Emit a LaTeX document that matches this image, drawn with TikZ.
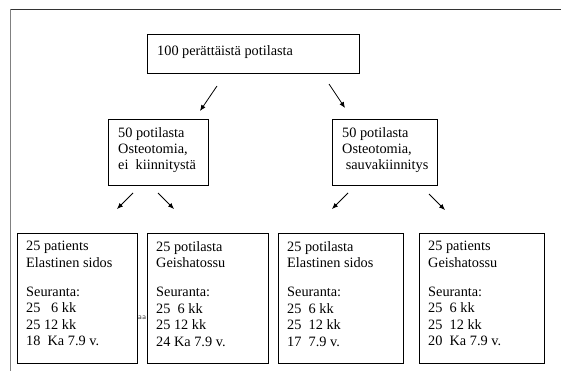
\documentclass[tikz,border=0pt]{standalone}
\usepackage{fontspec}
\setmainfont{Liberation Serif}
\usepackage{tikz}
\usetikzlibrary{arrows.meta,positioning}
\tikzset{
  box/.style={draw,line width=0.8pt,anchor=north west,inner sep=0pt},
  boxtext/.style={anchor=north west,align=left,inner sep=0pt,font=\fontsize{14.3}{16.4}\selectfont},
  arr/.style={line width=0.8pt,-{Latex[length=6pt,width=5pt]}}
}

\begin{document}
\begin{tikzpicture}[x=1pt,y=-1pt]
  \useasboundingbox (0,0) rectangle (561,371);
  % frame
  \draw[black!80,line width=1.2pt] (10,9.5) -- (561,9.5);
  \draw[gray,line width=1.6pt] (10.5,9) -- (10.5,371);

  % first level
  \node[box,minimum width=212pt,minimum height=39pt] (start) at (147,34) {};
  \node[boxtext] (starttxt) at (157,45) {100 perättäistä potilasta};

  % second level
  \node[box,minimum width=100pt,minimum height=66pt] (nofix) at (108,119) {};
  \node[boxtext] (nofixtxt) at (118,127) {50 potilasta\\Osteotomia,\\ei\ \ kiinnitystä};
  \node[box,minimum width=105pt,minimum height=66pt] (rodfix) at (332,119) {};
  \node[boxtext] (rodfixtxt) at (342,127) {50 potilasta\\Osteotomia,\\\ sauvakiinnitys};

  % third level
  \foreach \x/\w/\nm/\txt in {
    17/120/elasA/{25 patients\\Elastinen sidos\\[13pt]Seuranta:\\25\ \ \ 6 kk\\25\ 12 kk\\18\ \ Ka 7.9 v.},
    147/121/geishaA/{25 potilasta\\Geishatossu\\[13pt]Seuranta:\\25\ \ 6 kk\\25 12 kk\\24\ Ka 7.9 v.},
    278/125/elasB/{25 potilasta\\Elastinen sidos\\[13pt]Seuranta:\\25\ \ 6 kk\\25\ \ 12 kk\\17\ \ 7.9 v.},
    419/125/geishaB/{25 patients\\Geishatossu\\[13pt]Seuranta:\\25\ \ 6 kk\\25\ \ 12 kk\\20\ \ Ka 7.9 v.}}{
    \node[box,minimum width=\w pt,minimum height=130pt] (\nm) at (\x,233) {};
    \node[boxtext] (\nm txt) at (\x+9,241) {\txt};
  }
  \node[font=\sffamily\fontsize{8}{9}\selectfont,black!75] (stray) at (142,318) {aa};

  % arrows
  \coordinate (a1s) at (217,86);  \coordinate (a1e) at (200,111);
  \coordinate (a2s) at (329,84);  \coordinate (a2e) at (345,108);
  \coordinate (b1s) at (133,193); \coordinate (b1e) at (117,209);
  \coordinate (b2s) at (158,193); \coordinate (b2e) at (174,209);
  \coordinate (b3s) at (348,193); \coordinate (b3e) at (332,209);
  \coordinate (b4s) at (429,194); \coordinate (b4e) at (445,210);
  \foreach \s/\e in {a1s/a1e,a2s/a2e,b1s/b1e,b2s/b2e,b3s/b3e,b4s/b4e}
    \draw[arr] (\s) -- (\e);
\end{tikzpicture}
\end{document}
